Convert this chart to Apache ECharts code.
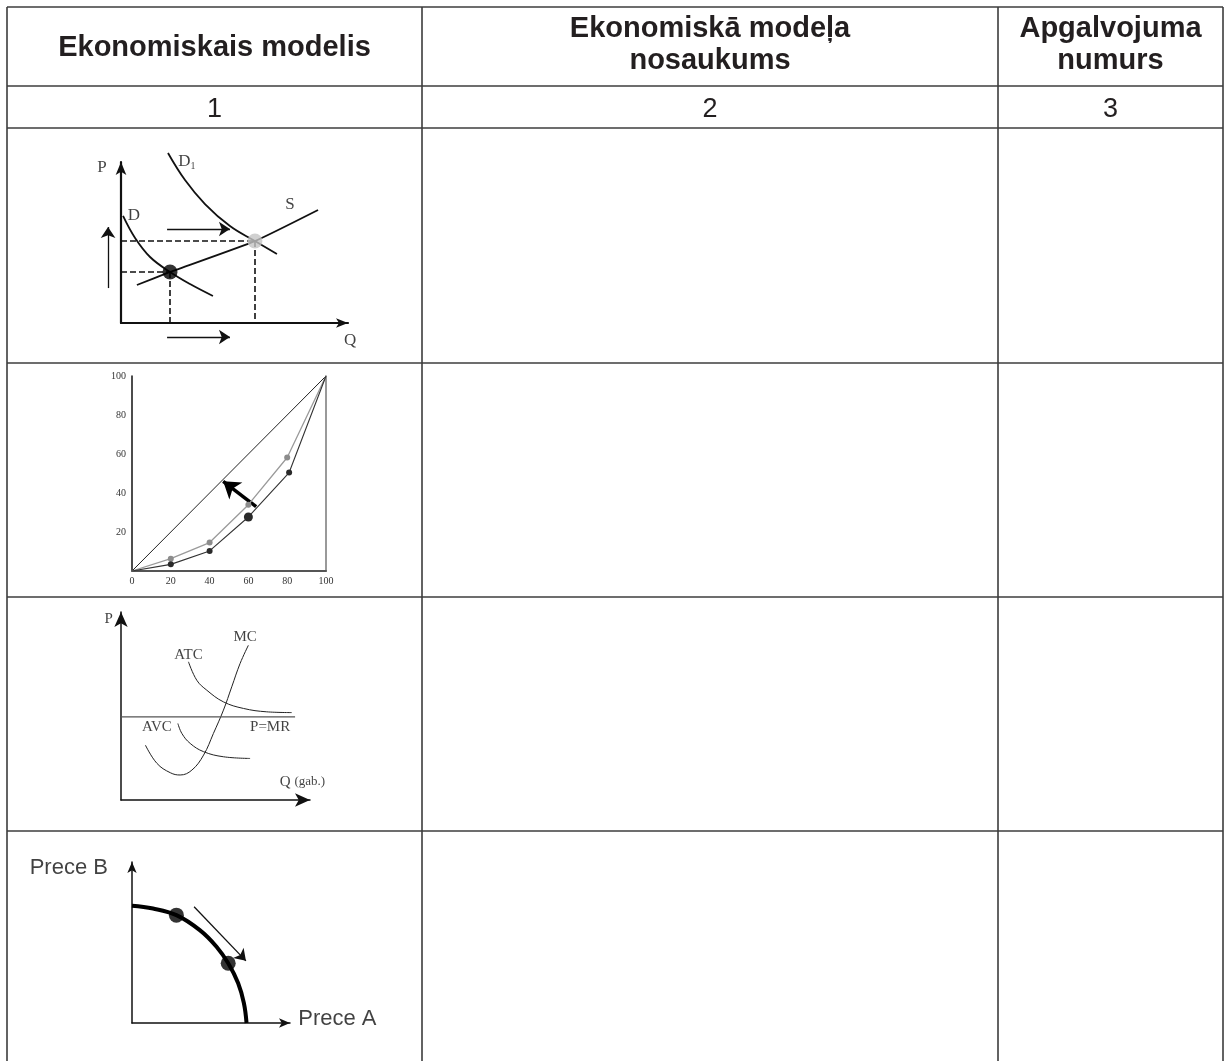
<!DOCTYPE html>
<html lang="lv">
<head>
	<meta charset="UTF-8">
	<title>Ekonomiskie modeļi</title>
	<script src="https://cdn.jsdelivr.net/npm/echarts@6/dist/echarts.min.js"></script>
	<style>
		* { margin: 0; padding: 0; }
		body { background: #fff; }
		#container { width: 1224px; height: 1061px; }
	</style>
</head>
<body>
<div id="container"></div>
<script type="text/javascript">
	// table texts
	var headTitles = [['Ekonomiskais modelis'], ['Ekonomiskā modeļa', 'nosaukums'], ['Apgalvojuma', 'numurs']];
	var colNumbers = ['1', '2', '3'];

	// 1 - demand shift (0..100 units of the small chart)
	var demandD = [[0.9, 66.5], [6.2, 52.8], [12.8, 41], [21.6, 31.7], [30.4, 24.2], [40.5, 16.8]];
	var demandD1 = [[20.7, 105.6], [28.2, 88.8], [37, 73.9], [48, 60.2], [59, 50.9], [68.7, 42.9]];
	var supplyS = [[7, 23.6], [21.6, 31.7], [59, 50.9], [86.8, 70.2]];
	var eqOld = [21.6, 31.7];
	var eqNew = [59, 50.9];
	var shiftArrows = [[[-5.7, 21.7], [-5.7, 59.6]], [[20.3, 58.4], [48, 58.4]], [[20.3, -8.7], [48, -8.7]]];
	var labels1 = [['P', -8.4, 96.3], ['Q', 100.9, -10.6], ['D', 5.7, 67], ['D{s|1}', 29, 100.5], ['S', 74.4, 73.3]];

	// 2 - Lorenz curves
	var lorenzBefore = [[0, 0], [20, 3.4], [40, 10.3], [60, 27.7], [81, 50.5], [100, 100]];
	var lorenzAfter = [[0, 0], [20, 6.3], [40, 14.6], [60, 34], [80, 58.2], [100, 100]];
	var equality = [[0, 0], [100, 100]];
	var lorenzArrow = [[64, 33], [47, 46]];

	// 3 - cost curves
	var mcCurve = [[12.9, 29.2], [19, 19.5], [26.1, 14.5], [31.3, 13.3], [37.5, 15.9], [43.7, 23.9], [48.9, 35.4], [54.2, 47.8], [58.6, 60.2], [63, 72.6], [67.4, 82.3]];
	var atcCurve = [[35.7, 73.5], [40.1, 63.7], [45.4, 58.4], [54.2, 52.2], [64.8, 48.7], [77.1, 46.9], [90.3, 46.5]];
	var avcCurve = [[30.1, 40.7], [32.2, 35.4], [36.6, 30.1], [43.7, 25.7], [54.2, 23], [68.3, 22.1]];
	var priceLine = [[0, 44.2], [92.1, 44.2]];
	var labels3 = [['P', -6.5, 96.5], ['MC', 65.7, 86.7], ['ATC', 35.7, 77], ['AVC', 19, 38.9], ['P=MR', 78.9, 38.9], ['Q {g|(gab.)}', 96, 9.7]];

	// 4 - production possibilities
	var ppfCurve = [[0, 72.8], [13.3, 71.1], [28.1, 67], [42.9, 57.7], [53.5, 47.4], [60.9, 37.1], [67.2, 24.7], [70.8, 12.4], [72.5, 0]];
	var ppfPoints = [[28.1, 67], [60.9, 37.1]];
	var ppfArrow = [[39.3, 72.2], [72.1, 38.6]];
	var labels4 = [['Prece B', -40, 96.3], ['Prece A', 130, 2.5]];

	// table frame
	var colX = [7, 422, 998, 1223];
	var rowY = [7, 86, 128, 363, 597, 831];

	var ink = '#111';
	var serif = '"Liberation Serif", "Times New Roman", serif';
	var sans = '"Liberation Sans", Arial, sans-serif';

	var myChart = echarts.init(document.getElementById('container'));

	var graphics = [];
	rowY.forEach(function (y) {
		graphics.push({type: 'line', shape: {x1: colX[0], y1: y, x2: colX[3], y2: y}, style: {stroke: '#3c3c3c', lineWidth: 1.6}});
	});
	colX.forEach(function (x) {
		graphics.push({type: 'line', shape: {x1: x, y1: rowY[0], x2: x, y2: 1061}, style: {stroke: '#3c3c3c', lineWidth: 1.6}});
	});
	headTitles.forEach(function (lines, i) {
		var cx = (colX[i] + colX[i + 1]) / 2;
		var mid = (rowY[0] + rowY[1]) / 2 + 1;
		lines.forEach(function (t, k) {
			var y = lines.length === 1 ? mid : mid - 19 + k * 32;
			graphics.push({type: 'text', style: {text: t, x: cx, y: y, textAlign: 'center', textVerticalAlign: 'middle',
				font: 'bold 29px ' + sans, fill: '#231f20'}});
		});
	});
	colNumbers.forEach(function (t, i) {
		graphics.push({type: 'text', style: {text: t, x: (colX[i] + colX[i + 1]) / 2, y: (rowY[1] + rowY[2]) / 2 + 3,
			textAlign: 'center', textVerticalAlign: 'middle', font: '27px ' + sans, fill: '#231f20'}});
	});

	function arrowAxis(gi, color, width, size) {
		return {
			gridIndex: gi, type: 'value', min: 0, max: 100,
			axisLine: {onZero: false, symbol: ['none', 'arrow'], symbolSize: size, lineStyle: {color: color, width: width}},
			axisTick: {show: false}, axisLabel: {show: false}, splitLine: {show: false}
		};
	}

	function curve(data, xi, yi, color, width, smooth) {
		return {type: 'line', xAxisIndex: xi, yAxisIndex: yi, data: data, smooth: smooth, clip: false,
			symbol: 'none', lineStyle: {color: color, width: width}, silent: true};
	}

	function arrows(list, xi, yi, color, width, size) {
		return {type: 'lines', coordinateSystem: 'cartesian2d', xAxisIndex: xi, yAxisIndex: yi, clip: false,
			symbol: ['none', 'arrow'], symbolSize: size, silent: true,
			lineStyle: {color: color, width: width, opacity: 1, curveness: 0},
			data: list.map(function (c) { return {coords: c}; })};
	}

	function textMarks(list, xi, yi, font, size, rich) {
		return {type: 'scatter', xAxisIndex: xi, yAxisIndex: yi, clip: false, symbolSize: 1, silent: true,
			itemStyle: {color: 'rgba(0,0,0,0)'}, z: 5,
			label: {show: true, position: 'inside', formatter: '{b}', color: ink, fontFamily: font, fontSize: size,
				textBorderWidth: 0, rich: rich || {}},
			data: list.map(function (l) { return {name: l[0], value: [l[1], l[2]]}; })};
	}

	var guides = [[[0, eqNew[1]], eqNew], [eqNew, [eqNew[0], 0]], [[0, eqOld[1]], eqOld], [eqOld, [eqOld[0], 0]]];

	var lorenzX = {gridIndex: 1, type: 'value', min: 0, max: 100, interval: 20,
		axisLine: {onZero: false, lineStyle: {color: '#555', width: 2}}, axisTick: {show: false}, splitLine: {show: false},
		axisLabel: {fontFamily: serif, fontSize: 10, color: '#333', margin: 5}};
	var lorenzY = {gridIndex: 1, type: 'value', min: 0, max: 100, interval: 20,
		axisLine: {show: true, onZero: false, lineStyle: {color: '#111', width: 1.5}}, axisTick: {show: false}, splitLine: {show: false},
		axisLabel: {fontFamily: serif, fontSize: 10, color: '#333', margin: 6,
			formatter: function (v) { return v === 0 ? '' : v; }}};
	var lorenzRight = {gridIndex: 1, type: 'value', min: 0, max: 100, position: 'right',
		axisLine: {show: true, onZero: false, lineStyle: {color: '#777', width: 1.5}}, axisTick: {show: false},
		axisLabel: {show: false}, splitLine: {show: false}};

	var option = {
		animation: false,
		backgroundColor: '#fff',
		graphic: graphics,
		grid: [
			{left: 121, top: 162, width: 227, height: 161, outerBoundsMode: 'none'},
			{left: 132, top: 376, width: 194, height: 195, outerBoundsMode: 'none'},
			{left: 121, top: 612, width: 189, height: 188, outerBoundsMode: 'none'},
			{left: 132, top: 862, width: 158, height: 161, outerBoundsMode: 'none'}
		],
		xAxis: [
			arrowAxis(0, ink, 2.2, [7, 12]),
			lorenzX,
			arrowAxis(2, ink, 1.5, [10, 15]),
			arrowAxis(3, ink, 1.5, [7, 11])
		],
		yAxis: [
			arrowAxis(0, ink, 2.2, [8, 13]),
			lorenzY,
			lorenzRight,
			arrowAxis(2, ink, 1.5, [10, 15]),
			arrowAxis(3, ink, 1.5, [7, 11])
		],
		series: [
			// 1
			curve(demandD, 0, 0, ink, 1.8, 0.4),
			curve(demandD1, 0, 0, ink, 1.8, 0.4),
			curve(supplyS, 0, 0, ink, 1.8, 0.15),
			{type: 'lines', coordinateSystem: 'cartesian2d', xAxisIndex: 0, yAxisIndex: 0, clip: false, silent: true,
				lineStyle: {color: ink, width: 1.6, type: [6, 3], opacity: 1},
				data: guides.map(function (c) { return {coords: c}; })},
			arrows(shiftArrows, 0, 0, ink, 1.3, [7, 11]),
			{type: 'scatter', xAxisIndex: 0, yAxisIndex: 0, clip: false, silent: true, symbolSize: 15, z: 4,
				data: [{value: eqOld, itemStyle: {color: '#000'}}, {value: eqNew, itemStyle: {color: '#c4c4c4'}}]},
			textMarks(labels1, 0, 0, serif, 17, {s: {fontFamily: serif, fontSize: 10, padding: [10, 0, 0, 0], color: ink}}),

			// 2
			curve(equality, 1, 1, '#222', 1, false),
			{type: 'line', xAxisIndex: 1, yAxisIndex: 1, data: lorenzAfter, silent: true, clip: false,
				lineStyle: {color: '#9a9a9a', width: 1.3}, itemStyle: {color: '#8c8c8c'}, symbol: 'circle',
				symbolSize: function (v, p) { return (p.dataIndex === 0 || p.dataIndex === 5) ? 0 : 6; }},
			{type: 'line', xAxisIndex: 1, yAxisIndex: 1, data: lorenzBefore, silent: true, clip: false,
				lineStyle: {color: '#333', width: 1.1}, itemStyle: {color: '#2a2a2a'}, symbol: 'circle',
				symbolSize: function (v, p) { return (p.dataIndex === 0 || p.dataIndex === 5) ? 0 : (p.dataIndex === 3 ? 9 : 6); }},
			arrows([lorenzArrow], 1, 1, '#000', 3.5, [13, 16]),

			// 3
			curve(mcCurve, 2, 3, '#222', 1, 0.4),
			curve(atcCurve, 2, 3, '#222', 1, 0.4),
			curve(avcCurve, 2, 3, '#222', 1, 0.4),
			curve(priceLine, 2, 3, '#555', 1.4, false),
			textMarks(labels3, 2, 3, serif, 15, {g: {fontFamily: serif, fontSize: 13, color: ink}}),

			// 4
			curve(ppfCurve, 3, 4, '#000', 4, 0.4),
			{type: 'scatter', xAxisIndex: 3, yAxisIndex: 4, clip: false, silent: true, symbolSize: 15, z: 4,
				itemStyle: {color: '#000'}, data: ppfPoints},
			arrows([ppfArrow], 3, 4, '#111', 1.3, [8, 11]),
			textMarks(labels4, 3, 4, sans, 22)
		]
	};

	myChart.setOption(option);
</script>
</body>
</html>
